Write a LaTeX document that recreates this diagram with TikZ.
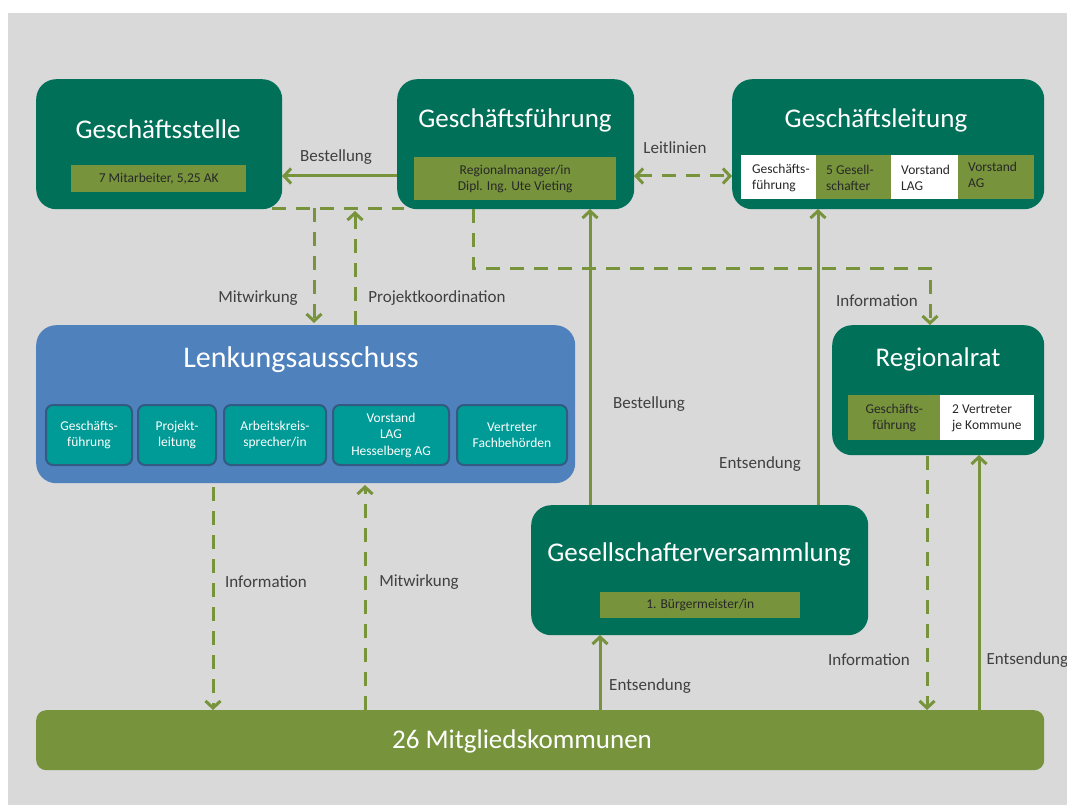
\documentclass[tikz,border=0pt]{standalone}
\usepackage{fontspec}
\setmainfont{Carlito}
\usetikzlibrary{arrows.meta}
\definecolor{dkg}{RGB}{0,112,88}
\definecolor{olv}{RGB}{119,147,60}
\definecolor{bgc}{RGB}{217,217,217}
\definecolor{lblue}{RGB}{79,129,189}
\definecolor{teal2}{RGB}{0,155,150}
\definecolor{tealb}{RGB}{50,90,130}
\definecolor{lbltxt}{RGB}{64,64,64}
\definecolor{bartxt}{RGB}{40,40,40}
\newcommand{\smallfnt}{\fontsize{13.5}{16}\selectfont}
\tikzset{
  box/.style={fill=dkg, rounded corners=20pt, inner sep=0pt, anchor=north west},
  ttl/.style={text=white, font=\fontsize{27}{32}\selectfont},
  bar/.style={fill=olv, inner sep=0pt, anchor=north west, text=bartxt, align=center, font=\smallfnt},
  wcell/.style={fill=white, inner sep=0pt, anchor=north west, text=bartxt, font=\smallfnt},
  ocell/.style={fill=olv, inner sep=0pt, anchor=north west, text=bartxt, font=\smallfnt},
  celltxt/.style={anchor=west, inner sep=0pt, align=left, text=bartxt, font=\smallfnt},
  sub/.style={fill=teal2, draw=tealb, line width=2pt, rounded corners=7pt, inner sep=0pt, anchor=north west, text=white, align=center, font=\fontsize{13.5}{16.5}\selectfont},
  con/.style={draw=olv, line width=3pt},
  arr/.style={con, -{Straight Barb[length=7pt,width=15pt]}},
  darr/.style={con, {Straight Barb[length=7pt,width=15pt]}-{Straight Barb[length=7pt,width=15pt]}},
  dsh/.style={dash pattern=on 14pt off 10pt},
  lbl/.style={text=lbltxt, font=\fontsize{17}{20}\selectfont}
}
\begin{document}
\begin{tikzpicture}[x=1pt,y=-1pt]
\useasboundingbox (0,0) rectangle (1067,805);
\fill[white] (0,0) rectangle (1067,805);
\fill[bgc] (8,13) rectangle (1067,805);

% Geschaeftsstelle
\node[box, minimum width=246pt, minimum height=130pt] (gst) at (36,79) {};
\node[ttl] (gstt) at (158,129) {Geschäftsstelle};
\node[bar, minimum width=175pt, minimum height=27pt] (gstb) at (71,165) {7 Mitarbeiter, 5,25 AK};

% Geschaeftsfuehrung
\node[box, minimum width=237pt, minimum height=130pt] (gf) at (397,79) {};
\node[ttl] (gft) at (515,120) {Geschäftsführung};
\node[bar, minimum width=202pt, minimum height=43pt] (gfb) at (414,157) {Regionalmanager/in\\Dipl. Ing. Ute Vieting};

% Geschaeftsleitung
\node[box, minimum width=312pt, minimum height=130pt] (gl) at (732,79) {};
\node[ttl] (glt) at (876,120) {Geschäftsleitung};
\node[wcell, minimum width=75pt, minimum height=44pt] (gl1) at (741,155) {};
\node[ocell, minimum width=75pt, minimum height=44pt] (gl2) at (816,155) {};
\node[wcell, minimum width=67pt, minimum height=44pt] (gl3) at (891,155) {};
\node[ocell, minimum width=76pt, minimum height=44pt] (gl4) at (958,155) {};
\node[celltxt] (gl1t) at (752,178) {Geschäfts-\\führung};
\node[celltxt] (gl2t) at (826,178) {5 Gesell-\\schafter};
\node[celltxt] (gl3t) at (901,178) {Vorstand\\LAG};
\node[celltxt] (gl4t) at (968,175) {Vorstand\\AG};

% Lenkungsausschuss
\node[box, fill=lblue, minimum width=539pt, minimum height=158pt] (la) at (36,325) {};
\node[ttl, font=\fontsize{30}{36}\selectfont] (lat) at (301,360) {Lenkungsausschuss};
\node[sub, minimum width=86pt, minimum height=60pt] (la1) at (45,404) {Geschäfts-\\führung};
\node[sub, minimum width=78pt, minimum height=60pt] (la2) at (137,404) {Projekt-\\leitung};
\node[sub, minimum width=102pt, minimum height=60pt] (la3) at (223,404) {Arbeitskreis-\\sprecher/in};
\node[sub, minimum width=116pt, minimum height=60pt] (la4) at (332,404) {Vorstand\\LAG\\Hesselberg AG};
\node[sub, minimum width=110pt, minimum height=60pt] (la5) at (456,404) {Vertreter\\Fachbehörden};

% Regionalrat
\node[box, minimum width=212pt, minimum height=130pt] (rr) at (832,325) {};
\node[ttl] (rrt) at (938,359) {Regionalrat};
\node[ocell, minimum width=92pt, minimum height=45pt, align=center] (rr1) at (848,395) {Geschäfts-\\führung};
\node[wcell, minimum width=94pt, minimum height=45pt] (rr2) at (940,395) {};
\node[celltxt] (rr2t) at (952,418) {2 Vertreter\\je Kommune};

% Gesellschafterversammlung
\node[box, minimum width=337pt, minimum height=130pt] (gv) at (531,505) {};
\node[ttl] (gvt) at (699,554) {Gesellschafterversammlung};
\node[bar, minimum width=200pt, minimum height=26pt] (gvb) at (600,592) {1. Bürgermeister/in};

% Mitgliedskommunen
\node[box, fill=olv, rounded corners=10pt, minimum width=1008pt, minimum height=60pt] (mk) at (36,710) {};
\node[ttl] (mkt) at (522,741) {26 Mitgliedskommunen};

% connectors
\coordinate (bA) at (397,176);
\coordinate (bB) at (282,176);
\draw[arr] (bA) -- (bB);
\coordinate (lA) at (634,176);
\coordinate (lB) at (732,176);
\draw[darr, dsh] (lA) -- (lB);

\coordinate (h1) at (272,208);
\coordinate (h2) at (404,208);
\draw[con, dsh] (h1) -- (h2);
\coordinate (m1) at (314,208);
\coordinate (m2) at (314,323);
\draw[arr, dsh] (m1) -- (m2);
\coordinate (p1) at (355,325);
\coordinate (p2) at (355,211);
\draw[arr, dsh] (p1) -- (p2);

\coordinate (i1) at (473,209);
\coordinate (i2) at (473,268);
\coordinate (i3) at (930,268);
\coordinate (i4) at (930,325);
\draw[arr, dsh] (i1) -- (i2) -- (i3) -- (i4);

\coordinate (s1) at (590,505);
\coordinate (s2) at (590,209);
\draw[arr] (s1) -- (s2);
\coordinate (e1) at (818,505);
\coordinate (e2) at (818,209);
\draw[arr] (e1) -- (e2);

\coordinate (d1) at (213,487);
\coordinate (d2) at (213,710);
\draw[arr, dsh] (d1) -- (d2);
\coordinate (u1) at (365,710);
\coordinate (u2) at (365,485);
\draw[arr, dsh] (u1) -- (u2);
\coordinate (g1) at (600,710);
\coordinate (g2) at (600,635);
\draw[arr] (g1) -- (g2);
\coordinate (r1) at (927,456);
\coordinate (r2) at (927,710);
\draw[arr, dsh] (r1) -- (r2);
\coordinate (q1) at (979,710);
\coordinate (q2) at (979,455);
\draw[arr] (q1) -- (q2);

% labels
\node[lbl] (L1) at (336,157) {Bestellung};
\node[lbl] (L2) at (675,148) {Leitlinien};
\node[lbl] (L3) at (258,298) {Mitwirkung};
\node[lbl] (L4) at (437,298) {Projektkoordination};
\node[lbl] (L5) at (877,301) {Information};
\node[lbl] (L6) at (649,404) {Bestellung};
\node[lbl] (L7) at (760,464) {Entsendung};
\node[lbl] (L8) at (266,582) {Information};
\node[lbl] (L9) at (419,582) {Mitwirkung};
\node[lbl] (L10) at (650,686) {Entsendung};
\node[lbl] (L11) at (869,660) {Information};
\node[lbl, anchor=west] (L12) at (983,660) {Entsendung};
\end{tikzpicture}
\end{document}
